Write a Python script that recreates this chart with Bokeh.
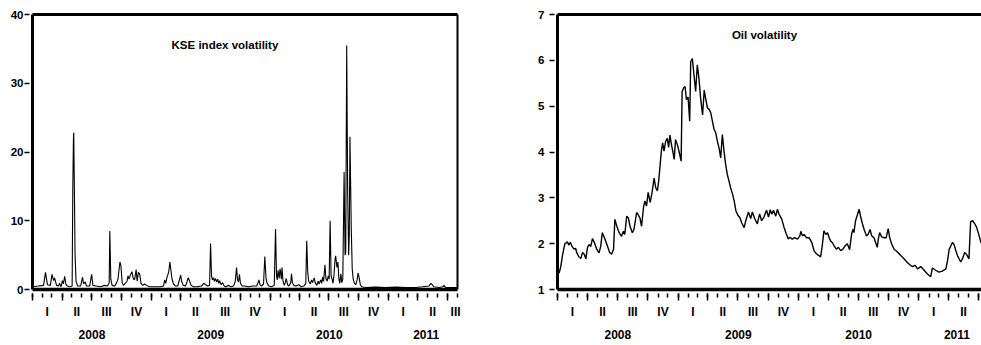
import numpy as np
import pandas as pd
from bokeh.plotting import figure
from bokeh.layouts import row
from bokeh.models import Range1d, LinearAxis, FixedTicker, Label
from bokeh.embed import file_html
from bokeh.resources import INLINE

FONT = "Liberation Sans"

# ---------------- data ----------------
sample_start = "2008-01-01"
kse_view_end = "2011-08-01"
oil_view_end = "2011-07-10"
label_span_end = "2011-08-20"
quarter_labels = ["I", "II", "III", "IV"]
years = [2008, 2009, 2010, 2011]
kse_yticks = [0, 10, 20, 30, 40]
oil_yticks = [1, 2, 3, 4, 5, 6, 7]

kse_title = "KSE index volatility"
oil_title = "Oil volatility"

kse_dates = [
    "2008-01-01", "2008-01-19", "2008-02-04", "2008-02-10", "2008-02-16", "2008-02-25",
    "2008-03-01", "2008-03-06", "2008-03-09", "2008-03-15", "2008-03-21", "2008-03-24", "2008-03-29",
    "2008-04-02", "2008-04-05", "2008-04-09", "2008-04-13", "2008-04-18", "2008-04-24",
    "2008-05-02", "2008-05-04", "2008-05-06", "2008-05-07", "2008-05-09", "2008-05-11", "2008-05-14", "2008-05-19", "2008-05-28",
    "2008-06-03", "2008-06-06", "2008-06-11", "2008-06-15", "2008-06-25",
    "2008-07-01", "2008-07-05", "2008-07-16", "2008-07-28",
    "2008-08-10", "2008-08-19", "2008-08-24", "2008-08-26", "2008-08-29",
    "2008-09-02", "2008-09-10", "2008-09-16", "2008-09-20", "2008-09-26", "2008-09-29",
    "2008-10-03", "2008-10-07", "2008-10-18", "2008-10-21", "2008-10-24", "2008-10-29",
    "2008-11-02", "2008-11-06", "2008-11-10", "2008-11-15", "2008-11-18", "2008-11-22", "2008-11-26", "2008-11-30",
    "2008-12-05", "2008-12-11", "2008-12-17", "2008-12-26",
    "2009-01-14", "2009-01-29",
    "2009-02-07", "2009-02-11", "2009-02-14", "2009-02-18", "2009-02-23", "2009-02-27",
    "2009-03-02", "2009-03-05", "2009-03-10", "2009-03-16", "2009-03-23", "2009-03-27",
    "2009-04-01", "2009-04-04", "2009-04-09", "2009-04-16", "2009-04-21", "2009-04-24", "2009-04-28",
    "2009-05-03", "2009-05-11", "2009-05-23",
    "2009-06-04", "2009-06-11", "2009-06-17", "2009-06-23", "2009-06-29",
    "2009-07-02", "2009-07-05", "2009-07-08", "2009-07-11", "2009-07-14", "2009-07-17", "2009-07-21", "2009-07-24", "2009-07-27", "2009-07-30",
    "2009-08-03", "2009-08-08", "2009-08-13", "2009-08-17", "2009-08-27",
    "2009-09-02", "2009-09-11", "2009-09-16", "2009-09-20", "2009-09-23", "2009-09-26", "2009-09-29",
    "2009-10-02", "2009-10-07", "2009-10-15", "2009-10-27",
    "2009-11-09", "2009-11-21", "2009-11-25", "2009-11-28",
    "2009-12-01", "2009-12-06", "2009-12-12", "2009-12-16", "2009-12-20", "2009-12-23", "2009-12-28",
    "2010-01-06", "2010-01-14", "2010-01-18", "2010-01-21", "2010-01-23", "2010-01-26", "2010-01-29",
    "2010-02-01", "2010-02-05", "2010-02-07", "2010-02-10", "2010-02-14", "2010-02-17", "2010-02-20", "2010-02-24", "2010-02-28",
    "2010-03-06", "2010-03-08", "2010-03-11", "2010-03-15", "2010-03-22", "2010-03-31",
    "2010-04-06", "2010-04-15", "2010-04-21", "2010-04-24", "2010-04-27", "2010-04-30",
    "2010-05-05", "2010-05-09", "2010-05-12", "2010-05-17", "2010-05-20", "2010-05-25", "2010-05-29",
    "2010-06-01", "2010-06-06", "2010-06-09", "2010-06-12", "2010-06-15", "2010-06-19", "2010-06-22", "2010-06-26", "2010-06-29",
    "2010-07-02", "2010-07-05", "2010-07-08", "2010-07-11", "2010-07-14", "2010-07-17", "2010-07-20", "2010-07-22", "2010-07-26", "2010-07-29",
    "2010-08-01", "2010-08-04", "2010-08-07", "2010-08-10", "2010-08-13", "2010-08-17", "2010-08-20", "2010-08-22", "2010-08-25", "2010-08-28", "2010-08-31",
    "2010-09-02", "2010-09-04", "2010-09-08", "2010-09-11", "2010-09-14", "2010-09-18", "2010-09-22", "2010-09-26", "2010-09-29",
    "2010-10-02", "2010-10-06", "2010-10-10", "2010-10-22", "2010-11-22", "2010-12-23",
    "2011-01-23", "2011-02-23", "2011-03-26", "2011-04-16",
    "2011-05-05", "2011-05-11", "2011-05-15", "2011-05-20",
    "2011-06-05", "2011-06-17", "2011-06-21", "2011-06-25", "2011-07-12", "2011-08-01",
]
kse_values = [
    0.4, 0.5, 0.6, 2.5, 0.7, 0.6,
    2.2, 1.3, 1.7, 0.6, 0.5, 0.9, 0.4,
    1.3, 0.8, 1.9, 0.7, 0.5, 0.4,
    0.5, 14.5, 22.0, 22.8, 14.0, 5.0, 1.2, 0.5, 0.5,
    1.8, 0.8, 1.1, 0.5, 0.5,
    2.2, 0.6, 0.5, 0.4,
    0.6, 0.5, 1.0, 8.5, 1.5,
    0.6, 0.5, 1.0, 1.5, 4.0, 3.5,
    1.0, 0.6, 1.2, 2.0, 1.5, 2.2,
    2.6, 1.6, 1.4, 2.9, 1.2, 2.5, 2.2, 0.9,
    0.6, 0.8, 0.6, 0.4,
    0.4, 0.4,
    0.5, 1.4, 0.9, 1.8, 2.5, 4.0,
    2.8, 1.6, 0.8, 0.5, 0.5, 1.2,
    2.1, 1.2, 0.6, 0.5, 1.2, 1.7, 1.3,
    0.6, 0.4, 0.4,
    0.5, 0.9, 0.7, 0.5, 0.6,
    6.7, 2.0, 1.4, 1.7, 1.2, 1.6, 1.1, 1.5, 0.9, 1.3,
    0.7, 1.0, 0.5, 0.4, 0.6,
    0.4, 0.5, 1.2, 3.2, 1.4, 1.1, 2.2,
    0.9, 0.5, 0.5, 0.4,
    0.5, 0.5, 1.0, 1.4,
    0.7, 0.5, 0.8, 4.8, 1.5, 0.9, 0.5,
    0.4, 0.6, 8.8, 2.0, 1.4, 2.8, 1.6,
    3.0, 1.5, 3.2, 1.2, 0.6, 1.0, 1.6, 0.7, 0.5,
    1.0, 2.3, 1.0, 0.6, 0.5, 0.7,
    0.4, 0.5, 0.9, 7.1, 2.6, 1.2,
    0.8, 1.4, 1.0, 1.7, 1.0, 0.6, 1.2,
    0.8, 1.4, 0.9, 1.8, 1.2, 3.6, 1.6, 1.2, 2.0,
    1.5, 10.0, 2.0, 1.5, 0.9, 2.2, 4.3, 4.9, 3.2, 4.0,
    1.5, 0.9, 2.3, 1.0, 1.5, 17.1, 5.0, 5.4, 35.5, 14.0, 5.0,
    8.0, 22.2, 9.0, 3.0, 1.5, 0.9, 0.7, 1.4, 2.4,
    1.8, 0.7, 0.4, 0.3, 0.35, 0.3,
    0.35, 0.3, 0.3, 0.4,
    0.5, 0.9, 0.7, 0.4,
    0.3, 0.4, 0.6, 0.3, 0.3, 0.3,
]

oil_dates = [
    "2008-01-01", "2008-01-06", "2008-01-11", "2008-01-16", "2008-01-23", "2008-01-31",
    "2008-02-04", "2008-02-09", "2008-02-14", "2008-02-20", "2008-02-25", "2008-02-28",
    "2008-03-06", "2008-03-12", "2008-03-17", "2008-03-22", "2008-03-27",
    "2008-04-01", "2008-04-06", "2008-04-11", "2008-04-16", "2008-04-21", "2008-04-29",
    "2008-05-06", "2008-05-11", "2008-05-16", "2008-05-23",
    "2008-06-01", "2008-06-07", "2008-06-13", "2008-06-19", "2008-06-23", "2008-06-29",
    "2008-07-06", "2008-07-13", "2008-07-19", "2008-07-23", "2008-07-29",
    "2008-08-03", "2008-08-08", "2008-08-15", "2008-08-20", "2008-08-28",
    "2008-09-01", "2008-09-07", "2008-09-12", "2008-09-18", "2008-09-22", "2008-09-27",
    "2008-10-02", "2008-10-08", "2008-10-13", "2008-10-20", "2008-10-25", "2008-10-30",
    "2008-11-03", "2008-11-11", "2008-11-15", "2008-11-19", "2008-11-24", "2008-11-29",
    "2008-12-03", "2008-12-07", "2008-12-12", "2008-12-16", "2008-12-20", "2008-12-24", "2008-12-30",
    "2009-01-04", "2009-01-10", "2009-01-13", "2009-01-18", "2009-01-22", "2009-01-26", "2009-01-31",
    "2009-02-05", "2009-02-08", "2009-02-13", "2009-02-18", "2009-02-23", "2009-02-28",
    "2009-03-05", "2009-03-10", "2009-03-16", "2009-03-21", "2009-03-26", "2009-03-31",
    "2009-04-05", "2009-04-10", "2009-04-15", "2009-04-20", "2009-04-25", "2009-04-30",
    "2009-05-05", "2009-05-10", "2009-05-15", "2009-05-20", "2009-05-25", "2009-05-30",
    "2009-06-04", "2009-06-09", "2009-06-15", "2009-06-20", "2009-06-25",
    "2009-07-01", "2009-07-07", "2009-07-13", "2009-07-20", "2009-07-25",
    "2009-08-02", "2009-08-09", "2009-08-14", "2009-08-21", "2009-08-29",
    "2009-09-05", "2009-09-11", "2009-09-18", "2009-09-26",
    "2009-10-02", "2009-10-07", "2009-10-12", "2009-10-17", "2009-10-24", "2009-10-29",
    "2009-11-03", "2009-11-11", "2009-11-18", "2009-11-25",
    "2009-12-01", "2009-12-06", "2009-12-13", "2009-12-20", "2009-12-29",
    "2010-01-05", "2010-01-08", "2010-01-13", "2010-01-18", "2010-01-25",
    "2010-02-02", "2010-02-10", "2010-02-17", "2010-02-24",
    "2010-03-04", "2010-03-09", "2010-03-14", "2010-03-19", "2010-03-25", "2010-03-30",
    "2010-04-04", "2010-04-09", "2010-04-14", "2010-04-19", "2010-04-26",
    "2010-05-02", "2010-05-09", "2010-05-16", "2010-05-22", "2010-05-29",
    "2010-06-05", "2010-06-11", "2010-06-15", "2010-06-18", "2010-06-23", "2010-06-29",
    "2010-07-04", "2010-07-09", "2010-07-14", "2010-07-19", "2010-07-26", "2010-07-31",
    "2010-08-06", "2010-08-11", "2010-08-18", "2010-08-23", "2010-08-28", "2010-08-31",
    "2010-09-04", "2010-09-10", "2010-09-17", "2010-09-24", "2010-09-30",
    "2010-10-04", "2010-10-10", "2010-10-18", "2010-10-28",
    "2010-11-07", "2010-11-17", "2010-11-27",
    "2010-12-08", "2010-12-14", "2010-12-20", "2010-12-28",
    "2011-01-07", "2011-01-17", "2011-01-27",
    "2011-02-06", "2011-02-11", "2011-02-21",
    "2011-03-03", "2011-03-13", "2011-03-24", "2011-03-29",
    "2011-04-03", "2011-04-08", "2011-04-13", "2011-04-18", "2011-04-23", "2011-04-28",
    "2011-05-03", "2011-05-08", "2011-05-14", "2011-05-20", "2011-05-26",
    "2011-06-02", "2011-06-07", "2011-06-13", "2011-06-19", "2011-06-25",
    "2011-07-01", "2011-07-07", "2011-07-13",
]
oil_values = [
    1.48, 1.36, 1.50, 1.74, 1.99, 2.04,
    1.97, 2.03, 1.94, 1.88, 1.90, 1.81,
    1.71, 1.68, 1.81, 1.77, 1.67,
    1.92, 1.98, 1.94, 2.11, 2.04, 1.88,
    1.80, 1.94, 2.24, 2.12,
    1.94, 1.81, 1.77, 1.88, 2.53, 2.38,
    2.24, 2.16, 2.27, 2.20, 2.60,
    2.56, 2.38, 2.24, 2.31, 2.68,
    2.64, 2.56, 2.38, 2.80, 2.93, 2.82,
    3.12, 2.90, 3.08, 3.43, 3.22, 3.15,
    3.37, 4.02, 4.20, 4.02, 4.23, 4.30,
    4.10, 4.37, 4.15, 4.00, 3.84, 4.27, 4.15,
    4.00, 3.80, 5.32, 5.40, 5.43, 5.14, 5.20,
    4.67, 5.97, 6.04, 5.68, 5.32, 5.90,
    5.61, 5.18, 4.81, 5.35, 5.14, 4.96,
    4.93, 4.85, 4.67, 4.49, 4.42, 4.23,
    4.09, 3.87, 4.38, 4.02, 3.73, 3.51,
    3.37, 3.22, 3.08, 2.93, 2.72,
    2.62, 2.57, 2.45, 2.35, 2.50,
    2.69, 2.55, 2.69, 2.55, 2.43,
    2.65, 2.50, 2.58, 2.73,
    2.58, 2.74, 2.64, 2.73, 2.60, 2.75,
    2.64, 2.54, 2.36, 2.21,
    2.10, 2.14, 2.10, 2.13, 2.10,
    2.17, 2.27, 2.17, 2.20, 2.13,
    2.13, 2.03, 1.85, 1.78,
    1.74, 1.71, 1.95, 2.28, 2.20, 2.24,
    2.13, 2.05, 2.02, 1.95, 1.88,
    1.92, 1.85, 1.88, 1.95, 2.00,
    1.87, 2.21, 2.31, 2.24, 2.50, 2.64,
    2.75, 2.57, 2.43, 2.31, 2.17, 2.20,
    2.31, 2.17, 2.13, 2.02, 1.92, 2.10,
    2.24, 2.15, 2.13, 2.13, 2.33,
    2.15, 2.00, 1.88, 1.82,
    1.74, 1.67, 1.59,
    1.52, 1.50, 1.53, 1.45,
    1.50, 1.42, 1.34,
    1.28, 1.47, 1.42,
    1.38, 1.40, 1.45, 1.63,
    1.88, 1.95, 2.03, 1.98, 1.85, 1.74,
    1.67, 1.60, 1.68, 1.81, 1.76,
    1.67, 2.48, 2.50, 2.44, 2.36,
    2.22, 2.06, 1.95,
]

assert len(kse_dates) == len(kse_values)
assert len(oil_dates) == len(oil_values)

# title anchors (left edge of text, value units)
kse_title_at = ("2009-03-04", 35.6)
oil_title_at = ("2009-06-13", 6.55)


# ---------------- helpers ----------------
def ms(d):
    return float(pd.Timestamp(d).value // 10**6)


def bold(ax, size):
    ax.major_label_text_font = FONT
    ax.major_label_text_font_style = "bold"
    ax.major_label_text_font_size = size
    ax.major_label_text_color = "black"


def no_labels(ax):
    ax.major_label_text_font_size = "1px"
    ax.major_label_text_color = None
    ax.major_label_standoff = 0


def make_chart(dates, values, x_end, y_lo, y_hi, yticks, title, title_at,
               width, min_left, min_right, min_top, y_standoff, line_w, right_border):
    p = figure(width=width, height=343, output_backend="svg", toolbar_location=None,
               x_axis_type=None, y_axis_type=None,
               x_range=Range1d(ms(sample_start), ms(x_end)),
               y_range=Range1d(y_lo, y_hi),
               min_border_left=min_left, min_border_right=min_right,
               min_border_top=min_top, min_border_bottom=54)
    p.outline_line_color = None
    p.background_fill_color = "white"
    p.border_fill_color = "white"

    month_bounds = [ms(d) for d in pd.date_range(sample_start, label_span_end, freq="MS")]
    quarter_starts = pd.date_range(sample_start, label_span_end, freq="QS")
    quarter_bounds = [ms(d) for d in quarter_starts]
    span_end = pd.Timestamp(label_span_end)

    q_centers, q_over = [], {}
    for qs in quarter_starts:
        qe = min(qs + pd.DateOffset(months=3), span_end)
        c = ms(qs + (qe - qs) / 2)
        q_centers.append(c)
        q_over[c] = quarter_labels[(qs.month - 1) // 3]

    y_centers, y_over = [], {}
    for y in years:
        ys = pd.Timestamp(f"{y}-01-01")
        ye = min(pd.Timestamp(f"{y + 1}-01-01"), span_end)
        c = ms(ys + (ye - ys) / 2)
        y_centers.append(c)
        y_over[c] = str(y)

    # tick axis (months / quarters) with the thick bottom frame line
    ax_t = LinearAxis(ticker=FixedTicker(ticks=quarter_bounds, minor_ticks=month_bounds),
                      axis_line_width=3.5, axis_line_color="black",
                      major_tick_in=-4, major_tick_out=11,
                      minor_tick_in=-4, minor_tick_out=8,
                      major_tick_line_width=1.5, minor_tick_line_width=1.5,
                      major_tick_line_color="black", minor_tick_line_color="black")
    no_labels(ax_t)
    p.add_layout(ax_t, "below")

    ax_q = LinearAxis(ticker=FixedTicker(ticks=q_centers, minor_ticks=[]),
                      major_label_overrides=q_over,
                      axis_line_color=None, major_tick_line_color=None, minor_tick_line_color=None,
                      major_tick_in=0, major_tick_out=0, minor_tick_in=0, minor_tick_out=0,
                      major_label_standoff=4)
    bold(ax_q, "12px")
    p.add_layout(ax_q, "below")

    ax_y = LinearAxis(ticker=FixedTicker(ticks=y_centers, minor_ticks=[]),
                      major_label_overrides=y_over,
                      axis_line_color=None, major_tick_line_color=None, minor_tick_line_color=None,
                      major_tick_in=0, major_tick_out=0, minor_tick_in=0, minor_tick_out=0,
                      major_label_standoff=8)
    bold(ax_y, "12px")
    p.add_layout(ax_y, "below")

    ay = LinearAxis(ticker=FixedTicker(ticks=yticks, minor_ticks=[]),
                    axis_line_width=3, axis_line_color="black",
                    major_tick_in=-3, major_tick_out=8, major_tick_line_width=1.5,
                    major_tick_line_color="black", minor_tick_line_color=None,
                    major_label_standoff=y_standoff)
    bold(ay, "11.5px")
    p.add_layout(ay, "left")

    top = LinearAxis(ticker=FixedTicker(ticks=[], minor_ticks=[]),
                     axis_line_width=3, axis_line_color="black",
                     major_tick_in=0, major_tick_out=0, minor_tick_in=0, minor_tick_out=0)
    no_labels(top)
    p.add_layout(top, "above")

    if right_border:
        rb = LinearAxis(ticker=FixedTicker(ticks=[], minor_ticks=[]),
                        axis_line_width=2, axis_line_color="black",
                        major_tick_in=0, major_tick_out=0, minor_tick_in=0, minor_tick_out=0)
        no_labels(rb)
        p.add_layout(rb, "right")

    p.line(x=pd.to_datetime(dates).values, y=values, line_color="black", line_width=line_w)

    p.add_layout(Label(x=ms(title_at[0]), y=title_at[1], text=title,
                       text_font=FONT, text_font_style="bold", text_font_size="11.5px",
                       text_baseline="middle", text_align="left", text_color="black"))
    return p


# page has no body margin (Bokeh's template): place frames at the reference pixels
p1 = make_chart(kse_dates, kse_values, kse_view_end, 0, 40, kse_yticks, kse_title, kse_title_at,
                width=497, min_left=32, min_right=40, min_top=14, y_standoff=1,
                line_w=1.1, right_border=True)
p2 = make_chart(oil_dates, oil_values, oil_view_end, 1, 7, oil_yticks, oil_title, oil_title_at,
                width=484, min_left=60, min_right=0, min_top=12, y_standoff=5,
                line_w=1.4, right_border=False)

layout = row(p1, p2)
open("out.html", "w").write(file_html(layout, INLINE))
